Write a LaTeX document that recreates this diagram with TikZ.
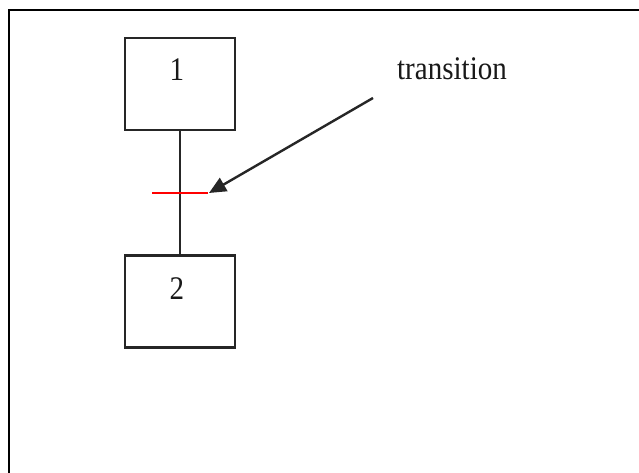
\documentclass[tikz,border=0pt]{standalone}
\usepackage{fontspec}
\setmainfont{Liberation Serif}
\newfontfamily\labelfont[FakeStretch=0.88]{Liberation Serif}
\usetikzlibrary{arrows.meta}
\begin{document}
\begin{tikzpicture}[x=1pt,y=-1pt,
  stepbox/.style={draw=black!85,line width=2.5pt,minimum width=110pt,minimum height=92pt,inner sep=0pt},
  steptext/.style={font=\labelfont\fontsize{33}{33}\selectfont,anchor=base,inner sep=0pt,text=black!90},
  link/.style={draw=black!85,line width=2.4pt},
  transbar/.style={draw=red,line width=2.5pt},
  pointer/.style={draw=black!85,line width=2.4pt,-{Triangle[length=17pt,width=15pt]}}]
  \useasboundingbox (0,0) rectangle (639,473);
  \fill[white] (0,0) rectangle (639,473);
  % frame, open on the right and bottom
  \draw[line width=2.5pt] (9,473) -- (9,10) -- (639,10);
  % steps
  \node[stepbox] (s1) at (180,84) {};
  \node[stepbox] (s2) at (180,301.5) {};
  \node[steptext] (l1) at (177,81) {1};
  \node[steptext] (l2) at (177,299) {2};
  % transition bar
  \coordinate (t) at (180,193);
  \coordinate (tl) at (152,193);
  \coordinate (tr) at (208,193);
  \draw[link] (s1.south) -- (t) -- (s2.north);
  \draw[transbar] (tl) -- (tr);
  % annotation
  \node[steptext] (lbl) at (452,80) {transition};
  \coordinate (p) at (373,98);
  \draw[pointer] (p) -- ([xshift=1pt]tr);
\end{tikzpicture}
\end{document}
